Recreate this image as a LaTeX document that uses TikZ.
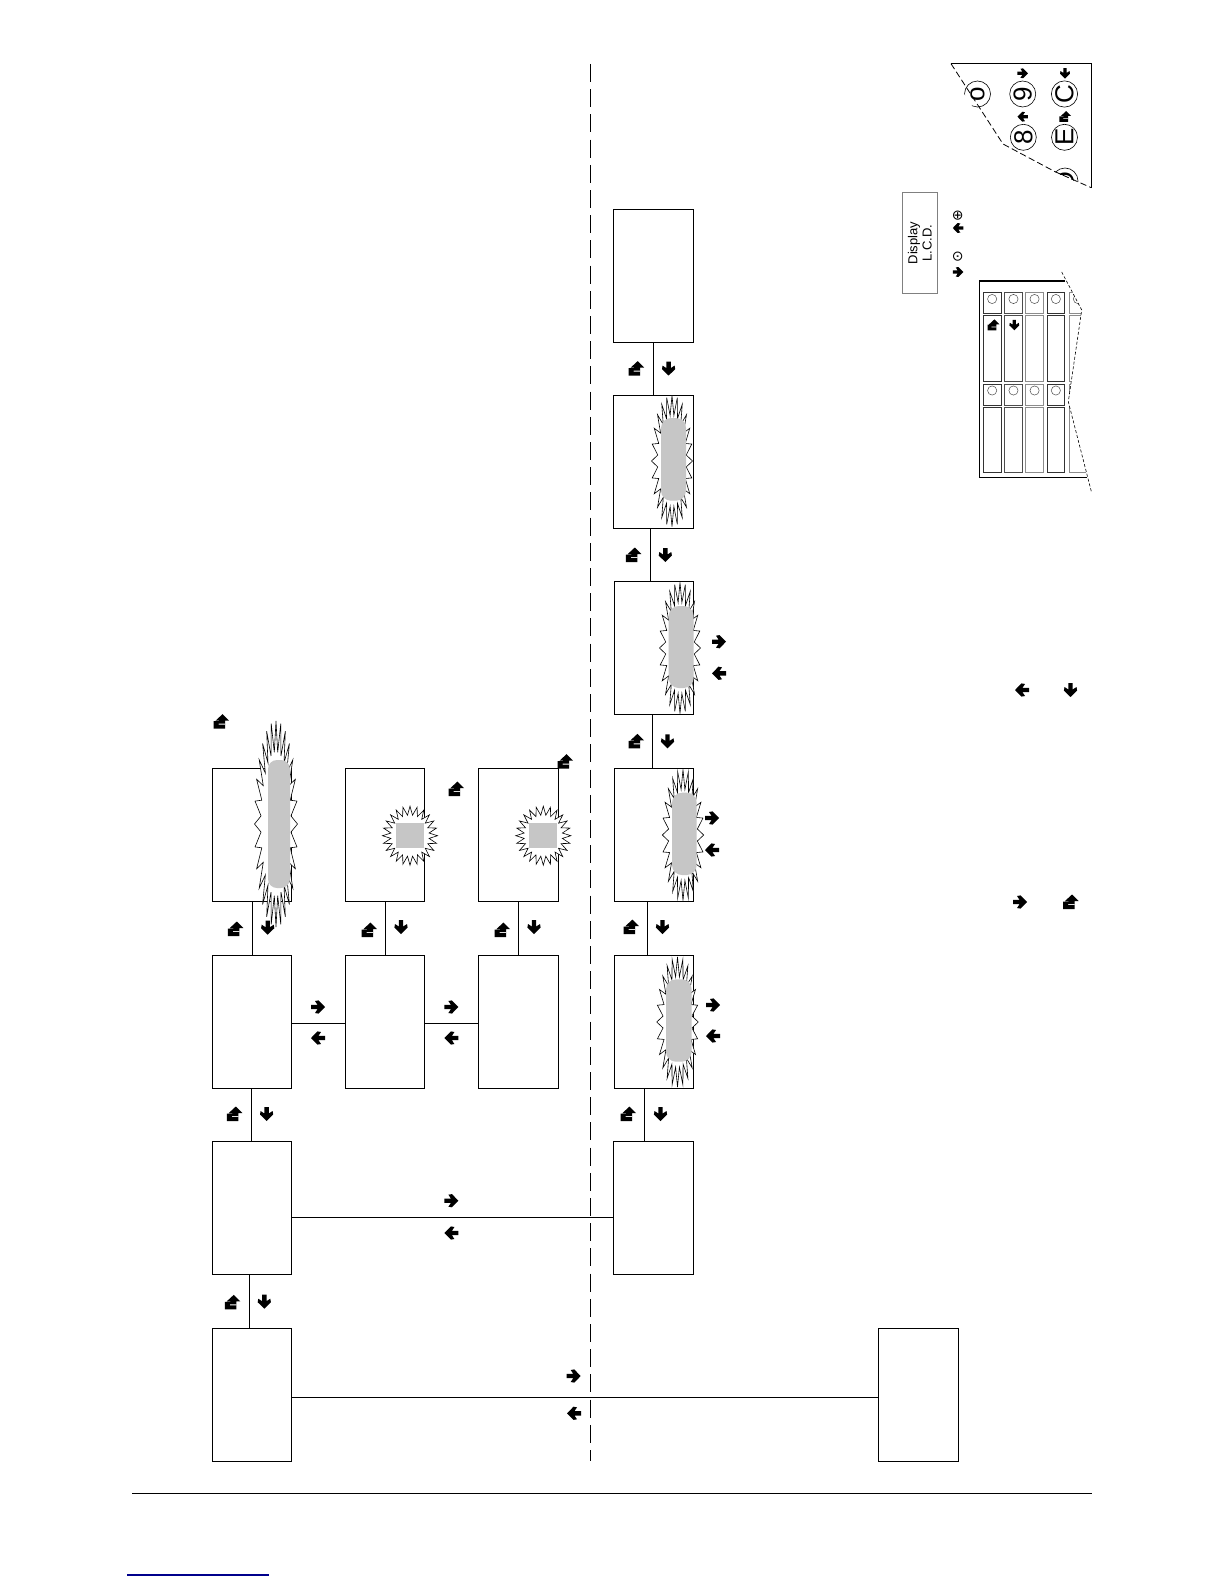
\documentclass[tikz,border=0pt]{standalone}
\usepackage{fontspec}
\usepackage{tikz}
\setmainfont{Liberation Sans}
\newfontfamily\symfont{DejaVu Sans}

\tikzset{
  stage/.style={draw, rectangle, line width=0.55pt, inner sep=0pt, outer sep=0pt, minimum width=39.5pt, minimum height=66.5pt},
  link/.style={line width=0.55pt},
  flash/.style={draw=black, fill=white, line width=0.3pt, line join=miter},
  keycap/.style={draw, circle, line width=0.3pt, inner sep=0pt, minimum size=13pt, rotate=90, font=\fontsize{13}{13}\selectfont},
  pics/goright/.style={code={
    \fill[rotate=#1] (-7,-2.2) -- (-0.5,-2.2) -- (-3,-6) -- (0.5,-6.6) -- (7,0) -- (0.5,6.6) -- (-3,6) -- (-0.5,2.2) -- (-7,2.2) -- cycle;
  }},
  pics/gohome/.style={code={
    \fill[even odd rule] (1.5,-7.5) -- (8,-1) -- (4,-1) -- (4,7) -- (-7.5,7) -- (-7.5,-0.5) -- (-2,-0.5) -- (-2,-1) -- (-5.5,-1) -- cycle
      (-2.5,2) rectangle (4,3);
  }},
  pics/goright/.default=0
}
% cx, cy, half width, half height, corners of the star
\newcommand{\flashstar}[5]{
  \draw[flash] ({#1+#3},#2) foreach \k in {1,...,#5} {
    -- ({#1+#3*(1-0.3*mod(\k,2))*cos(\k/#5*360)},{#2+#4*(1-0.3*mod(\k,2))*sin(\k/#5*360)})
  } -- cycle;
}

\begin{document}
\begin{tikzpicture}[x=0.5pt,y=-0.5pt]
  \useasboundingbox (0,0) rectangle (1224,1584);

  % left column
  \node[stage] (L1) at (252,1395) {};
  \node[stage] (L2) at (252,1208) {};
  \node[stage] (L3) at (252,1022) {};
  \node[stage] (L4) at (252,835) {};
  \node[stage] (M3) at (385,1022) {};
  \node[stage] (M4) at (385,835) {};
  \node[stage, minimum width=40pt] (R3) at (518.5,1022) {};
  \node[stage, minimum width=40pt] (R4) at (518.5,835) {};

  % right column
  \node[stage, minimum width=40pt] (C1) at (653.5,1208) {};
  \node[stage] (C2) at (654,1022) {};
  \node[stage] (C3) at (654,835) {};
  \node[stage] (C4) at (654,648) {};
  \node[stage, minimum width=40pt] (C5) at (653.5,462) {};
  \node[stage, minimum width=40pt] (C6) at (653.5,276) {};
  \node[stage, minimum width=40pt] (F1) at (918.5,1395) {};

  \draw[link, dash pattern=on 9pt off 3.6pt] (590.5,64) -- (590.5,1461);

  \draw[link] ([xshift=-1.25pt]L1.north) -- ([xshift=-1.25pt]L2.south);
  \draw[link] ([xshift=-0.25pt]L2.north) -- ([xshift=-0.25pt]L3.south);
  \draw[link] ([xshift=0.25pt]L3.north) -- ([xshift=0.25pt]L4.south);
  \draw[link] ([xshift=0.25pt]M3.north) -- ([xshift=0.25pt]M4.south);
  \draw[link] (R3.north) -- (R4.south);
  \draw[link] ([yshift=-0.75pt]L3.east) -- ([yshift=-0.75pt]M3.west);
  \draw[link] ([yshift=-0.75pt]M3.east) -- ([yshift=-0.75pt]R3.west);
  \draw[link] ([yshift=-4.75pt]L2.east) -- ([yshift=-4.75pt]C1.west);
  \draw[link] ([yshift=-1.25pt]L1.east) -- ([yshift=-1.25pt]F1.west);
  \draw[link] ([xshift=-4.5pt]C1.north) -- ([xshift=-4.75pt]C2.south);
  \draw[link] ([xshift=-3.25pt]C2.north) -- ([xshift=-3.25pt]C3.south);
  \draw[link] ([xshift=-0.75pt]C3.north) -- ([xshift=-0.75pt]C4.south);
  \draw[link] ([xshift=-1.75pt]C4.north) -- ([xshift=-1.5pt]C5.south);
  \draw[link] (C5.north) -- (C6.south);

  % flashing fields
  \flashstar{276}{824}{21.5}{103}{56}
  \fill[gray!45, rounded corners=4.5pt] (268,760) rectangle (290,888);
  \flashstar{410}{835.7}{27.5}{29.5}{48}
  \fill[gray!45] (396,823) rectangle (423.7,848);
  \flashstar{543.3}{835.7}{27.5}{29.5}{48}
  \fill[gray!45] (529,823) rectangle (557,848);
  \flashstar{677.5}{1022}{20.8}{65}{48}
  \fill[gray!45, rounded corners=5pt] (666,979.3) rectangle (691.7,1061.7);
  \flashstar{683}{835}{20.7}{65.5}{48}
  \fill[gray!45, rounded corners=5pt] (672,792.7) rectangle (696.7,875);
  \flashstar{680}{648}{20.5}{65.5}{48}
  \fill[gray!45, rounded corners=5pt] (668.7,606) rectangle (693.7,688);
  \flashstar{672}{461}{20.5}{65.5}{48}
  \fill[gray!45, rounded corners=5pt] (661,418) rectangle (686,500.7);

  % button marks along the flow
  \pic at (221,721.7) {gohome};
  \pic at (456,789) {gohome};
  \pic at (565,761.7) {gohome};
  \pic at (235.3,929) {gohome};
  \pic at (267.7,927.7) {goright=-90};
  \pic at (369,930) {gohome};
  \pic at (401,927) {goright=-90};
  \pic at (502,930) {gohome};
  \pic at (534,927) {goright=-90};
  \pic at (318,1007) {goright};
  \pic at (318,1038) {goright=180};
  \pic at (451.4,1007) {goright};
  \pic at (451.4,1038) {goright=180};
  \pic at (234.3,1114) {gohome};
  \pic at (266.6,1114) {goright=-90};
  \pic at (232.3,1302.3) {gohome};
  \pic at (264.3,1301.7) {goright=-90};
  \pic at (451.4,1200.7) {goright};
  \pic at (451.4,1233) {goright=180};
  \pic at (573.7,1376) {goright};
  \pic at (574,1413.3) {goright=180};
  \pic at (628,1114) {gohome};
  \pic at (660.5,1114) {goright=-90};
  \pic at (631,927) {gohome};
  \pic at (662.5,927) {goright=-90};
  \pic at (636,741.3) {gohome};
  \pic at (667.5,741.3) {goright=-90};
  \pic at (633.3,555) {gohome};
  \pic at (665.3,555) {goright=-90};
  \pic at (636.2,368.6) {gohome};
  \pic at (668.6,368.6) {goright=-90};
  \pic at (719,641.7) {goright};
  \pic at (719,673.3) {goright=180};
  \pic at (712,818) {goright};
  \pic at (712,850) {goright=180};
  \pic at (713,1005) {goright};
  \pic at (713,1036) {goright=180};
  \pic at (1022,690) {goright=180};
  \pic at (1070.5,690) {goright=-90};
  \pic at (1020,902) {goright};
  \pic at (1070.5,902) {gohome};

  % keypad corner
  \begin{scope}
    \clip (944,64) -- (1000,147) -- (1055,172) -- (1091.3,188) -- (1091.3,64) -- cycle;
    \node[keycap] (K6) at (977.5,94) {o};
    \node[keycap] (K9) at (1022.7,94) {9};
    \node[keycap] (KC) at (1064.5,94) {C};
    \node[keycap] (K8) at (1023.3,137.3) {8};
    \node[keycap] (KE) at (1064.5,137.3) {E};
    \node[keycap] (KD) at (1065,181) {D};
  \end{scope}
  \draw[line width=0.8pt] (951,63.7) -- (1091.3,63.7) -- (1091.3,187.7);
  \draw[line width=0.4pt, dash pattern=on 3.2pt off 1.6pt] (951,63.7) -- (1003,144) -- (1055,171.7) -- (1091.3,187.7);
  \pic[scale=0.75] at (1022.7,73.3) {goright};
  \pic[scale=0.75] at (1022.7,116.7) {goright=180};
  \pic[scale=0.75] at (1065,73.3) {goright=-90};
  \pic[scale=0.75] at (1065,116.7) {gohome};

  % display legend
  \node[draw=gray, line width=0.35pt, minimum width=17.5pt, minimum height=50.3pt, inner sep=0pt, outer sep=0pt] (LCD) at (919.8,243) {};
  \node[rotate=90, align=center, inner sep=0pt, font=\fontsize{6.5}{7.2}\selectfont] (LCDtext) at (LCD.center) {Display\\L.C.D.};
  \node[rotate=90, inner sep=0pt, font=\symfont\fontsize{7}{7}\selectfont] (plus) at (957.7,215.7) {⊕};
  \node[rotate=90, inner sep=0pt, font=\symfont\fontsize{7}{7}\selectfont] (dot) at (957.7,257) {⊙};
  \pic[scale=0.75] at (958,228) {goright=180};
  \pic[scale=0.75] at (958,272) {goright};

  % button panel
  \begin{scope}
    \clip (970,272) -- (1061.7,272) -- (1081.7,310) -- (1068.3,401.7) -- (1091.7,493) -- (970,493) -- cycle;
    \foreach \cx/\ink in {983.3/black!80, 1004.6/black!70, 1025.7/black!45, 1047/black!80, 1069/black!45} {
      \draw[draw=\ink, line width=0.5pt] (\cx,292.3) rectangle ++(17.7,21);
      \draw[draw=\ink, line width=0.5pt] (\cx,315.7) rectangle ++(17.7,65.3);
      \draw[draw=\ink, line width=0.5pt] (\cx,384) rectangle ++(17.7,21);
      \draw[draw=\ink, line width=0.5pt] (\cx,407.3) rectangle ++(17.7,65.4);
      \draw[black!70, line width=0.25pt] (\cx+8.85,299) circle (2.3pt);
      \draw[black!70, line width=0.25pt] (\cx+8.85,390.5) circle (2.3pt);
    }
  \end{scope}
  \draw[line width=0.6pt] (1065,281) -- (979.3,281) -- (979.3,477.7) -- (1087,477.7);
  \draw[line width=0.3pt, dash pattern=on 1.5pt off 1pt] (1061.7,272) -- (1081.7,310) -- (1068.3,401.7) -- (1091.7,493);
  \pic[scale=0.75] at (993.3,325) {gohome};
  \pic[scale=0.75] at (1014.3,325) {goright=-90};

  % page rules
  \draw[link] (132,1493.5) -- (1092,1493.5);
  \draw[line width=0.6pt, blue!55!black] (127,1575) -- (269,1575);
\end{tikzpicture}
\end{document}
